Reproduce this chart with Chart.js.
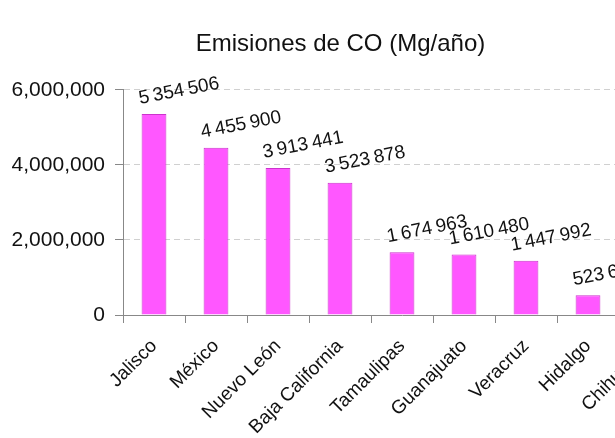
<!DOCTYPE html>
<html>
<head>
<meta charset="utf-8">
<script src="https://cdn.jsdelivr.net/npm/chart.js@4"></script>
<style>
  html, body { margin: 0; padding: 0; background: #fff; overflow: hidden; }
  #wrap { width: 690px; height: 438px; }
</style>
</head>
<body>
<div id="wrap"><canvas id="myChart" width="690" height="438"></canvas></div>
<script>
const estados = ['Jalisco', 'México', 'Nuevo León', 'Baja California', 'Tamaulipas',
  'Guanajuato', 'Veracruz', 'Hidalgo', 'Chihuahua'];
const emisiones = [5354506, 4455900, 3913441, 3523878, 1674963, 1610480, 1447992, 523650, 480000];
const yTicks = [0, 2000000, 4000000, 6000000];

const fontName = '"Liberation Sans", Arial, sans-serif';

// etiquetas de valor, un poco inclinadas como en el original
const valueLabels = {
  id: 'valueLabels',
  afterDatasetsDraw(chart) {
    const ctx = chart.ctx;
    const meta = chart.getDatasetMeta(0);
    ctx.save();
    ctx.font = '19px ' + fontName;
    ctx.fillStyle = '#111';
    ctx.textAlign = 'left';
    ctx.textBaseline = 'alphabetic';
    meta.data.forEach((bar, i) => {
      const txt = emisiones[i].toLocaleString('en-US').replace(/,/g, '\u2009');
      ctx.save();
      ctx.translate(bar.x - 14, bar.y - 10);
      ctx.rotate(-11 * Math.PI / 180);
      ctx.fillText(txt, 0, 0);
      ctx.restore();
    });
    ctx.restore();
  }
};

const data = {
  labels: estados,
  datasets: [
    {
      label: 'Emisiones de CO',
      data: emisiones,
      backgroundColor: '#ff57ff',
      borderColor: '#cc33cc',
      borderWidth: 1,
      barPercentage: 0.4,
      categoryPercentage: 1.0,
    }
  ]
};

const config = {
  type: 'bar',
  data: data,
  options: {
    responsive: false,
    animation: false,
    layout: { padding: { left: 0, right: 9, top: 0, bottom: 0 } },
    plugins: {
      legend: { display: false },
      tooltip: { enabled: false },
      title: {
        display: true,
        text: 'Emisiones de CO (Mg/año)',
        color: '#111',
        font: { family: fontName, size: 24, weight: 'normal' },
        padding: { top: 30, bottom: 31 }
      }
    },
    scales: {
      x: {
        grid: { display: true, drawOnChartArea: false, drawTicks: true, tickLength: 8, color: '#888', offset: true },
        border: { display: true, color: '#888' },
        ticks: {
          maxRotation: 45, minRotation: 45, autoSkip: false,
          color: '#111', padding: 12,
          font: { family: fontName, size: 19 }
        },
        afterFit: s => { s.height = 123; }
      },
      y: {
        min: 0, max: 6000000,
        afterBuildTicks: s => { s.ticks = yTicks.map(v => ({ value: v })); },
        grid: { color: '#d0d0d0', tickColor: '#888', tickLength: 8, tickBorderDash: [] },
        border: { display: true, color: '#888', dash: [6, 4] },
        ticks: {
          color: '#111', padding: 10,
          font: { family: fontName, size: 21 },
          callback: v => v.toLocaleString('en-US')
        },
        afterFit: s => { s.width = 123; }
      }
    }
  },
  plugins: [valueLabels]
};

let ctx = document.getElementById('myChart').getContext('2d');
let chart = new Chart(ctx, config);
</script>
</body>
</html>
